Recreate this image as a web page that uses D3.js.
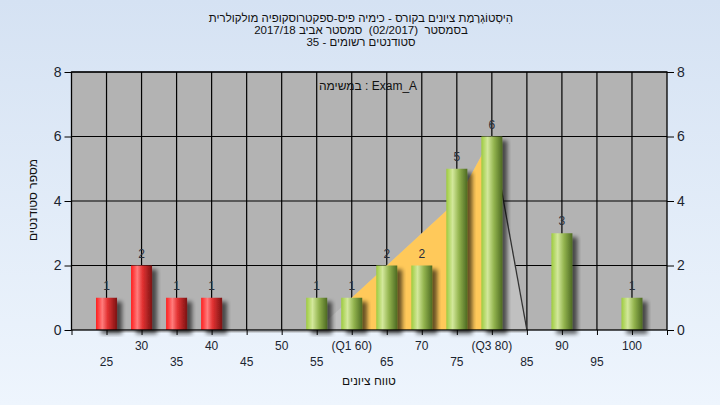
<!DOCTYPE html>
<html><head><meta charset="utf-8">
<script src="https://cdn.jsdelivr.net/npm/d3@7"></script>
<style>
html,body{margin:0;padding:0;}
svg{display:block;font-family:"Liberation Sans",Arial,sans-serif;}
</style></head>
<body>
<svg id="c" width="720" height="405"></svg>
<script>
// ---- data ----
const categories = [25,30,35,40,45,50,55,60,65,70,75,80,85,90,95,100];
const counts     = [1, 2, 1, 1, 0, 0, 1, 1, 2, 2, 5, 6, 0, 3, 0, 1];
const tickLabels = ["25","30","35","40","45","50","55","(Q1 60)","65","70","75","(Q3 80)","85","90","95","100"];
const areaCats   = [25,30,35,40,45,50,55,60,65,70,75,80,85];
const areaValues = [0, 0, 0, 0, 0, 0, 0, 1, 2, 3, 4, 6, 0];
const q1 = 60, q3 = 80;
const passMark = 55;
const yTicks = [0,2,4,6,8];
const titleLines = [
  "הִיסְטוֹגְרָמַת ציונים בקורס - כימיה פיס-ספקטרוסקופיה מולקולרית",
  "בסמסטר  (02/2017)  סמסטר אביב 2017/18",
  "סטודנטים רשומים - 35"
];
const examLabel = "במשימה : Exam_A";
const xTitle = "טווח ציונים";
const yTitle = "מספר סטודנטים";

const svg = d3.select("#c");
const W = 720, H = 405;
const L = 71.5, R = 667, T = 72, B = 330;

// word-by-word left-to-right layout (used for the mixed-script task label)
function ltrText(parent, str, cx, y, size, fill){
  const g = parent.append("g");
  const tokens = str.split(/( +|-)/).filter(t=>t.length);
  const sp = size*0.278;
  let xPos = 0;
  tokens.forEach(t=>{
    if (/^ +$/.test(t)) { xPos += sp*t.length; return; }
    const el = g.append("text").attr("x",xPos).attr("y",y)
      .attr("font-size",size).attr("fill",fill).text(t);
    xPos += el.node().getComputedTextLength();
  });
  g.attr("transform",`translate(${cx - xPos/2},0)`);
  return g;
}

const defs = svg.append("defs");
const bg = defs.append("linearGradient").attr("id","bg").attr("x1",0).attr("y1",0).attr("x2",0).attr("y2",1);
bg.append("stop").attr("offset","0%").attr("stop-color","#d5e2f3");
bg.append("stop").attr("offset","100%").attr("stop-color","#eef5fd");

function barGrad(id, stops){
  const g = defs.append("linearGradient").attr("id",id).attr("x1",0).attr("y1",0).attr("x2",1).attr("y2",0);
  stops.forEach(s => g.append("stop").attr("offset",s[0]).attr("stop-color",s[1]));
}
barGrad("red", [["0%","#ff1c1c"],["30%","#ff7c7c"],["55%","#e23232"],["100%","#7c1414"]]);
barGrad("green", [["0%","#9dcb3e"],["30%","#d3e89c"],["60%","#93b44e"],["100%","#4d6a22"]]);

const f = defs.append("filter").attr("id","sh").attr("x","-20%").attr("y","-20%").attr("width","160%").attr("height","140%");
f.append("feGaussianBlur").attr("in","SourceAlpha").attr("stdDeviation",2).attr("result","b");
f.append("feOffset").attr("in","b").attr("dx",5).attr("dy",4).attr("result","o");
f.append("feComponentTransfer").attr("in","o").attr("result","o2")
  .append("feFuncA").attr("type","linear").attr("slope",0.6);
const m = f.append("feMerge");
m.append("feMergeNode").attr("in","o2");
m.append("feMergeNode").attr("in","SourceGraphic");

svg.append("rect").attr("width",W).attr("height",H).attr("fill","url(#bg)");

const x = d3.scaleLinear().domain([20,105]).range([L,R]);
const y = d3.scaleLinear().domain([0,8]).range([B,T]);

// plot background
svg.append("rect").attr("x",L).attr("y",T).attr("width",R-L).attr("height",B-T).attr("fill","#b3b3b3");

// gridlines
const grid = svg.append("g").attr("stroke","#000").attr("stroke-width",1.2);
grid.selectAll(".vg").data(categories).join("line")
  .attr("x1",d=>x(d)).attr("x2",d=>x(d)).attr("y1",T).attr("y2",B);
grid.selectAll(".hg").data(yTicks.filter(d=>d>0)).join("line")
  .attr("x1",L).attr("x2",R).attr("y1",d=>y(d)).attr("y2",d=>y(d));

// area (light gray) and IQR area (yellow)
const areaData = areaCats.map((c,i)=>({c, v:areaValues[i]}));
const area = d3.area().x(d=>x(d.c)).y0(y(0)).y1(d=>y(d.v));
svg.append("path").datum(areaData).attr("d",area).attr("fill","#c0c0c0");
svg.append("path").datum(areaData.filter(d=>d.c>=q1 && d.c<=q3)).attr("d",area).attr("fill","#ffc95a");
const lineGen = d3.line().x(d=>x(d.c)).y(d=>y(d.v));
svg.append("path").datum(areaData.filter(d=>d.c>=q3)).attr("d",lineGen)
  .attr("fill","none").attr("stroke","#333").attr("stroke-width",1.3);
svg.append("line").attr("x1",x(areaCats[0])).attr("x2",x(areaCats[areaCats.length-1]))
  .attr("y1",B+1.8).attr("y2",B+1.8).attr("stroke","#888").attr("stroke-width",1);

// bars
const bw = 21;
const barData = categories.map((c,i)=>({c, v:counts[i]})).filter(d=>d.v>0);
svg.append("g").selectAll("rect").data(barData).join("rect")
  .attr("x",d=>x(d.c)-bw/2).attr("width",bw)
  .attr("y",d=>y(d.v)).attr("height",d=>y(0)-y(d.v))
  .attr("fill",d=>d.c<passMark?"url(#red)":"url(#green)")
  .attr("filter","url(#sh)");

svg.append("g").selectAll("text").data(barData).join("text")
  .attr("x",d=>x(d.c)).attr("y",d=>y(d.v)-8)
  .attr("text-anchor","middle").attr("font-size",12).attr("fill","#2a2f3a")
  .text(d=>d.v);

// frame
svg.append("rect").attr("x",L).attr("y",T).attr("width",R-L).attr("height",B-T)
  .attr("fill","none").attr("stroke","#000").attr("stroke-width",1.3);

// axes
const yl = svg.append("g").attr("transform",`translate(${L},0)`)
  .call(d3.axisLeft(y).tickValues(yTicks).tickSize(7).tickPadding(3).tickFormat(d3.format("d")));
const yr = svg.append("g").attr("transform",`translate(${R},0)`)
  .call(d3.axisRight(y).tickValues(yTicks).tickSize(7).tickPadding(3).tickFormat(d3.format("d")));
[yl,yr].forEach(g=>{
  g.select(".domain").remove();
  g.selectAll(".tick line").attr("stroke","#000");
  g.selectAll(".tick text").attr("font-size",14).attr("fill","#1c2530").attr("font-family","Liberation Sans, Arial, sans-serif");
});

const xa = svg.append("g").attr("transform",`translate(0,${B})`)
  .call(d3.axisBottom(x).tickValues([20].concat(categories,[105])).tickSize(5).tickFormat(""));
xa.select(".domain").remove();
xa.selectAll(".tick line").attr("stroke","#000");
svg.append("g").selectAll("text").data(categories).join("text")
  .attr("x",d=>x(d)).attr("y",(d,i)=> i%2===1 ? 350 : 366)
  .attr("text-anchor","middle").attr("font-size",12).attr("fill","#1c2530")
  .text((d,i)=>tickLabels[i]);

// titles (natural right-to-left)
svg.append("g").selectAll("text").data(titleLines).join("text")
  .attr("x",361).attr("y",(d,i)=>22+i*11.8)
  .attr("direction","rtl").attr("text-anchor","middle")
  .style("white-space","pre")
  .attr("font-size",11.5).attr("fill","#111").text(d=>d);
ltrText(svg, examLabel, 368, 90, 12, "#111");
svg.append("text").attr("x",369).attr("y",385).attr("direction","rtl").attr("text-anchor","middle")
  .attr("font-size",12).attr("fill","#111").text(xTitle);
svg.append("text").attr("transform","translate(37,200) rotate(-90)").attr("text-anchor","middle")
  .attr("direction","rtl").attr("font-size",12).attr("fill","#111").text(yTitle);
</script>
</body></html>
